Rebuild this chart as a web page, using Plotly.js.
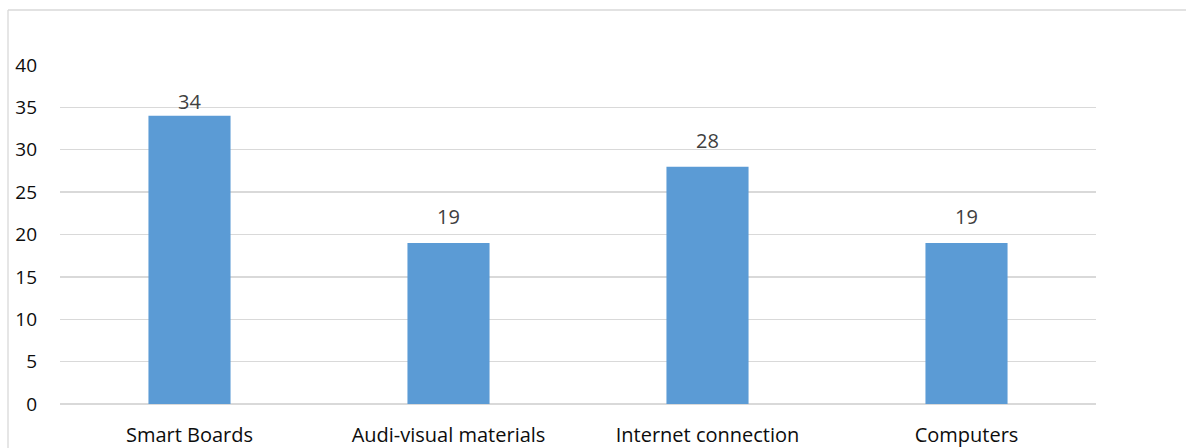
<!DOCTYPE html>
<html><head><meta charset="utf-8">
<script src="https://cdn.plot.ly/plotly-3.0.1.min.js"></script>
<style>html,body{margin:0;padding:0;background:#fff;}#c{width:1186px;height:448px;}</style>
</head><body><div id="c"></div>
<script>
const categories = ["Smart Boards", "Audi-visual materials", "Internet connection", "Computers"];
const values = [34, 19, 28, 19];
const yTicks = [0, 5, 10, 15, 20, 25, 30, 35, 40];

const L = 60, R = 90, T = 65, B = 44, W = 1186, H = 448;
const pw = W - L - R, ph = H - T - B;
const frameX = (8 - L) / pw, frameY = 1 + (T - 10) / ph, frameR = 1 + (R + 5) / pw;

// label offsets above bar tops (style only, pixels)
const labelGap = [-1, 11, 11, 11];

const font = "'Open Sans', 'Noto Sans', sans-serif";
const annotations = categories.map((c, i) => ({
  x: c, y: values[i], xref: 'x', yref: 'y', text: String(values[i]),
  showarrow: false, yanchor: 'bottom', yshift: labelGap[i],
  font: {family: font, size: 20, color: '#404040'}
}));

Plotly.newPlot('c', [{
  type: 'bar', x: categories, y: values,
  marker: {color: '#5b9bd5'}, width: 0.317,
  hoverinfo: 'none'
}], {
  width: W, height: H,
  margin: {l: L, r: R, t: T, b: B, pad: 0},
  paper_bgcolor: '#fff', plot_bgcolor: '#fff',
  showlegend: false,
  font: {family: font, size: 20, color: '#000'},
  annotations: annotations,
  xaxis: {showgrid: false, showline: false, zeroline: false, ticks: '', ticklabelstandoff: 17,
          tickfont: {family: font, size: 20, color: '#0d0d0d'}},
  yaxis: {range: [0, 40], tickvals: yTicks, showgrid: true, gridcolor: '#d9d9d9', gridwidth: 1.3,
          zeroline: true, zerolinecolor: '#d9d9d9', zerolinewidth: 1.3, showline: false, ticks: '',
          ticklabelstandoff: 22, tickfont: {family: font, size: 19, color: '#0d0d0d'}},
  shapes: [
    {type: 'line', xref: 'paper', yref: 'paper', x0: frameX, x1: frameR, y0: frameY, y1: frameY, line: {color: '#d9d9d9', width: 1.3}},
    {type: 'line', xref: 'paper', yref: 'paper', x0: frameX, x1: frameX, y0: frameY, y1: -0.2, line: {color: '#d9d9d9', width: 1.3}}
  ]
}, {staticPlot: true});
</script></body></html>
